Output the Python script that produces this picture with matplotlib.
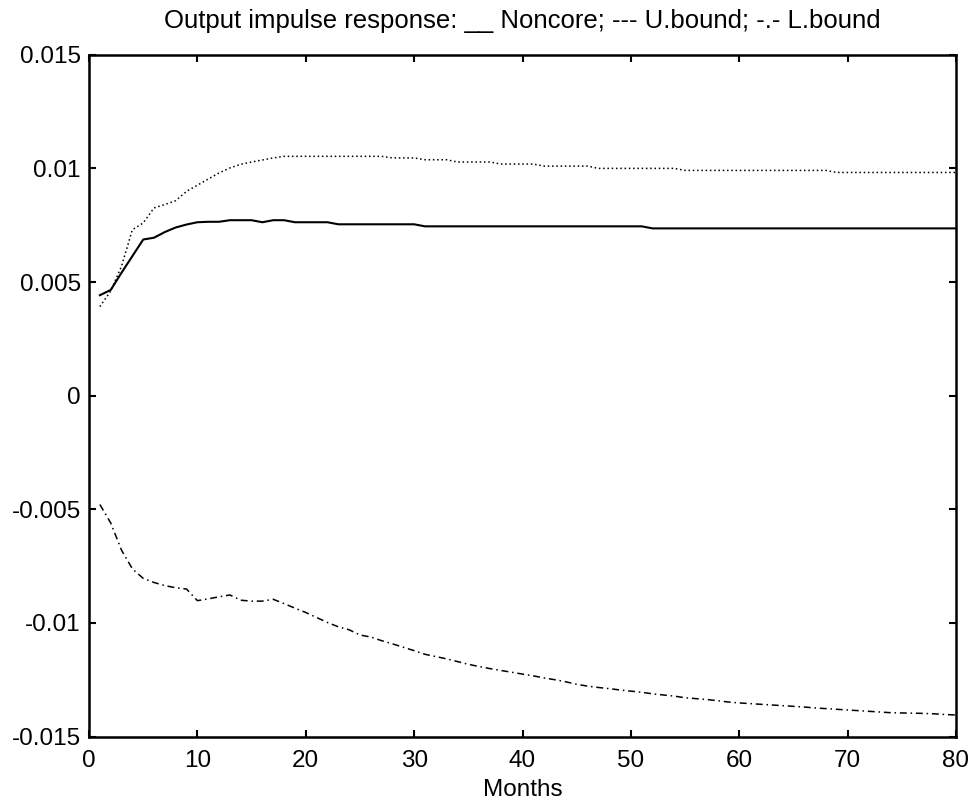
import numpy as np
import matplotlib
matplotlib.use("Agg")
import matplotlib.pyplot as plt

plt.rcParams['font.family'] = ['Liberation Sans', 'DejaVu Sans']

# impulse responses, months 1..80
months = np.arange(1, 81)

noncore = [0.00442, 0.00465, 0.00541, 0.00614, 0.00687, 0.00695, 0.00720, 0.00740, 0.00753, 0.00763,
           0.00765, 0.00765, 0.00772, 0.00772, 0.00772, 0.00763, 0.00772, 0.00772, 0.00763, 0.00763,
           0.00763, 0.00763] + [0.00754] * 8 + [0.00745] * 21 + [0.00736] * 29

ubound = [0.00392, 0.00460, 0.00570, 0.00730, 0.00760, 0.00826, 0.00841, 0.00858, 0.00899, 0.00926,
          0.00953, 0.00980, 0.01002, 0.01018, 0.01028, 0.01037, 0.01046] \
    + [0.01053] * 10 + [0.01046] * 3 + [0.01038] * 3 + [0.01028] * 4 + [0.01019] * 4 \
    + [0.01010] * 5 + [0.01000] * 8 + [0.00991] * 14 + [0.00982] * 12

lbound = [-0.00479, -0.00560, -0.00680, -0.00762, -0.00804, -0.00822, -0.00836, -0.00845, -0.00851, -0.00902,
          -0.00894, -0.00885, -0.00877, -0.00900, -0.00904, -0.00904, -0.00896, -0.00915, -0.00935, -0.00954,
          -0.00976, -0.00998, -0.01017, -0.01030, -0.01053, -0.01062, -0.01078, -0.01092, -0.01107, -0.01122,
          -0.01138, -0.01148, -0.01158, -0.01170, -0.01182, -0.01192, -0.01201, -0.01209, -0.01217, -0.01225,
          -0.01233, -0.01242, -0.01250, -0.01259, -0.01270, -0.01278, -0.01284, -0.01289, -0.01295, -0.01300,
          -0.01305, -0.01312, -0.01317, -0.01322, -0.01329, -0.01333, -0.01337, -0.01342, -0.01348, -0.01352,
          -0.01355, -0.01358, -0.01361, -0.01364, -0.01367, -0.01370, -0.01374, -0.01377, -0.01380, -0.01383,
          -0.01386, -0.01389, -0.01392, -0.01395, -0.01396, -0.01397, -0.01398, -0.01400, -0.01403, -0.01405]

xticks = [0, 10, 20, 30, 40, 50, 60, 70, 80]
yticks = [-0.015, -0.01, -0.005, 0, 0.005, 0.01, 0.015]
ytick_labels = ["-0.015", "-0.01", "-0.005", "0", "0.005", "0.01", "0.015"]

fig = plt.figure(figsize=(9.73, 8.05), dpi=100)
ax = fig.add_axes([0.0915, 0.085, 0.891, 0.847])

ax.plot(months, noncore, color="k", lw=1.5, linestyle="-")
ax.plot(months, ubound, color="k", lw=1.1, linestyle=(0, (1, 1.8)))
ax.plot(months, lbound, color="k", lw=1.1, linestyle=(0, (4.5, 2.5, 1, 2.5)))

ax.set_xlim(0, 80)
ax.set_ylim(-0.015, 0.015)
ax.set_xticks(xticks)
ax.set_yticks(yticks)
ax.set_yticklabels(ytick_labels)
ax.tick_params(direction="in", top=True, right=True, length=5, width=1.5,
               labelsize=17.5, pad=6)
ax.tick_params(axis="x", pad=10)
for s in ax.spines.values():
    s.set_linewidth(1.8)

ax.set_title("Output impulse response: __ Noncore; --- U.bound; -.- L.bound", fontsize=18.5, pad=19)
ax.set_xlabel("Months", fontsize=17.5, labelpad=5)

fig.savefig("out.png", dpi=100)
